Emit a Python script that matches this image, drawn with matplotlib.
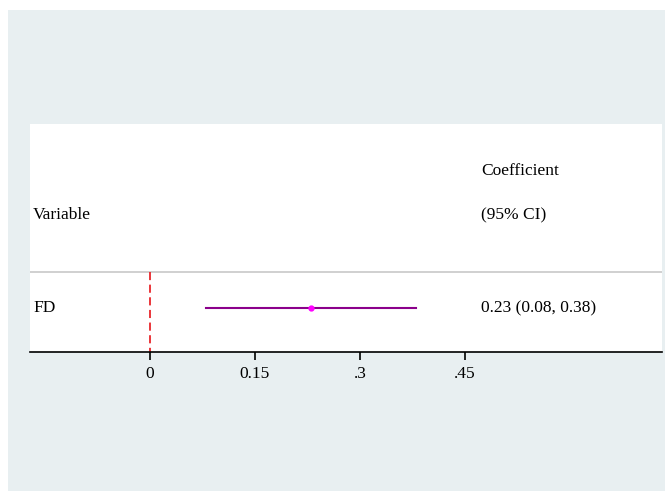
import numpy as np
import matplotlib
matplotlib.use('agg')
import matplotlib.pyplot as plt
from matplotlib.patches import Rectangle

## Data
variables = ["FD"]
coef = [0.23]
ci_low = [0.08]
ci_high = [0.38]
labels = ["0.23 (0.08, 0.38)"]
xticks = [0, 0.15, 0.3, 0.45]
xticklabels = ["0", "0.15", ".3", ".45"]

plt.rcParams['font.family'] = ['Liberation Serif', 'DejaVu Serif']
FS = 12.5

W, H = 665, 491
fig = plt.figure(figsize=(W / 100, H / 100), dpi=100)
fig.patch.set_facecolor('white')

# outer grey graph region
bg = Rectangle((8 / W, -0.02), 1.02 - 8 / W, 1.02 - 10 / H, transform=fig.transFigure,
               facecolor='#e8eff1', edgecolor='none', zorder=-10)
fig.add_artist(bg)

left, right, top, bottom = 30, 662, 124, 352
ax = fig.add_axes([left / W, 1 - bottom / H, (right - left) / W, (bottom - top) / H])
ax.set_zorder(1)
ax.set_facecolor('white')

# x range from pixel positions (0 at 150px, 0.15 per 105px)
ax.set_xlim((left - 150) / 700.0, (right - 150) / 700.0)
ax.set_ylim(0, 1)

row_y = (bottom - 308) / (bottom - top)
header_line = (bottom - 272) / (bottom - top)

# header separator
ax.axhline(header_line, color='#c8c8c8', lw=1.2, zorder=1)
# null line, drawn top-down so it starts with a dash
ax.plot([0, 0], [header_line, 0], color='#e8262b', lw=1.3, ls=(0, (4.5, 2.5)), zorder=2)

for i in range(len(variables)):
    ax.plot([ci_low[i], ci_high[i]], [row_y, row_y], color='#8b008b', lw=1.5, zorder=3)
    ax.plot(coef[i], row_y, 'o', color='#ff00ff', ms=3.5, zorder=4)
    ax.text(3 / (right - left), row_y, variables[i], transform=ax.transAxes,
            va='center', ha='left', fontsize=FS)
    ax.text((481 - left) / (right - left), row_y, labels[i], transform=ax.transAxes,
            va='center', ha='left', fontsize=FS)

ax.text(3 / (right - left), (bottom - 215) / (bottom - top), "Variable", transform=ax.transAxes,
        va='center', ha='left', fontsize=FS)
ax.text((481 - left) / (right - left), (bottom - 171) / (bottom - top), "Coefficient",
        transform=ax.transAxes, va='center', ha='left', fontsize=FS)
ax.text((481 - left) / (right - left), (bottom - 215) / (bottom - top), "(95% CI)",
        transform=ax.transAxes, va='center', ha='left', fontsize=FS)

for s in ['top', 'left', 'right']:
    ax.spines[s].set_visible(False)
ax.spines['bottom'].set_linewidth(1.2)
ax.set_yticks([])
ax.set_xticks(xticks)
ax.set_xticklabels(xticklabels, fontsize=FS)
ax.tick_params(axis='x', direction='out', length=6, width=1.2, pad=4)

plt.savefig('out.png', dpi=100)
